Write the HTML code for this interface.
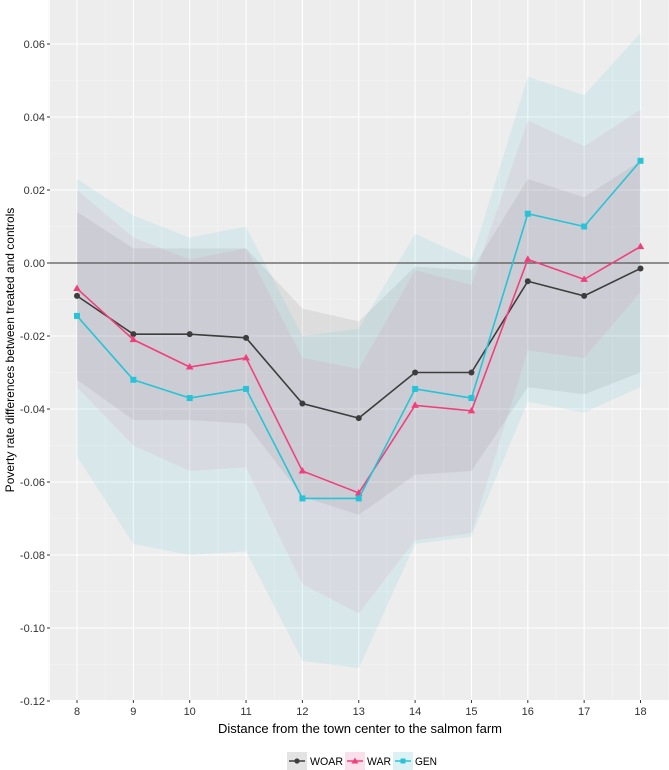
<!DOCTYPE html>
<html><head><meta charset="utf-8"><style>
html,body{margin:0;padding:0;background:#fff;}
svg{display:block;font-family:"Liberation Sans",sans-serif;}
</style></head><body>
<svg id="s" width="669" height="770" xmlns="http://www.w3.org/2000/svg">
<rect x="50" y="0" width="619" height="700" fill="#ededed"/>
<g id="grid"></g>
<g id="rib"></g>
<line x1="50" x2="669" y1="263" y2="263" stroke="#555" stroke-width="1.3"/>
<g id="lines"></g>
<g id="axes" font-size="11" fill="#333"></g>
<text x="360" y="733" font-size="13" text-anchor="middle" fill="#000">Distance from the town center to the salmon farm</text>
<text transform="translate(14,350) rotate(-90)" font-size="12" text-anchor="middle" fill="#000">Poverty rate differences between treated and controls</text>
<g font-size="11" fill="#000">
<rect x="287" y="752" width="20" height="18" fill="#e3e3e3"/>
<line x1="289" x2="305" y1="761" y2="761" stroke="#3d3d3d" stroke-width="1.5"/><circle cx="297" cy="761" r="2.6" fill="#3d3d3d"/>
<text x="310" y="765" textLength="33" lengthAdjust="spacingAndGlyphs">WOAR</text>
<rect x="345" y="752" width="20" height="18" fill="#fae0ea"/>
<line x1="347" x2="363" y1="761" y2="761" stroke="#f0407c" stroke-width="1.5"/><polygon points="355,757.5 358.5,763.5 351.5,763.5" fill="#f0407c"/>
<text x="367" y="765" textLength="24" lengthAdjust="spacingAndGlyphs">WAR</text>
<rect x="393" y="752" width="20" height="18" fill="#dcf1f3"/>
<line x1="395" x2="411" y1="761" y2="761" stroke="#28c3d6" stroke-width="1.5"/><rect x="400.5" y="758.5" width="5" height="5" fill="#28c3d6"/>
<text x="415" y="765" textLength="22" lengthAdjust="spacingAndGlyphs">GEN</text>
</g>
</svg>
<script>
const X=v=>77+(v-8)*56.35, Y=v=>263-v*3650;
const ns="http://www.w3.org/2000/svg";
function el(p,t,a,txt){const e=document.createElementNS(ns,t);for(const k in a)e.setAttribute(k,a[k]);if(txt!==undefined)e.textContent=txt;document.getElementById(p).appendChild(e);return e;}
for(let i=0;i<=11;i++){let x=X(7.5+i);el("grid","line",{x1:x,x2:x,y1:0,y2:700,stroke:"#f6f6f6","stroke-width":0.6});}
for(let v=-0.13;v<=0.07;v+=0.02){let y=Y(v);if(y>0&&y<700)el("grid","line",{x1:50,x2:669,y1:y,y2:y,stroke:"#f6f6f6","stroke-width":0.6});}
for(let i=8;i<=18;i++){let x=X(i);el("grid","line",{x1:x,x2:x,y1:0,y2:700,stroke:"#fff","stroke-width":1.1});
 el("axes","line",{x1:x,x2:x,y1:700,y2:703,stroke:"#333"});el("axes","text",{x:x,y:715,"text-anchor":"middle"},String(i));}
for(let k=-6;k<=3;k++){let v=k*0.02,y=Y(v);el("grid","line",{x1:50,x2:669,y1:y,y2:y,stroke:"#fff","stroke-width":1.1});
 el("axes","line",{x1:47,x2:50,y1:y,y2:y,stroke:"#333"});el("axes","text",{x:45,y:y+4,"text-anchor":"end"},v.toFixed(2));}
const xs=[8,9,10,11,12,13,14,15,16,17,18];
const S=[
 {c:"#3d3d3d",f:"#555",o:0.1,m:[-0.009,-0.0195,-0.0195,-0.0205,-0.0385,-0.0425,-0.030,-0.030,-0.005,-0.009,-0.0015],
  u:[0.014,0.004,0.004,0.004,-0.0125,-0.016,-0.001,-0.002,0.023,0.018,0.028],l:[-0.032,-0.043,-0.043,-0.044,-0.064,-0.069,-0.058,-0.057,-0.034,-0.036,-0.030],s:"c"},
 {c:"#f0407c",f:"#f0407c",o:0.09,m:[-0.007,-0.021,-0.0285,-0.026,-0.057,-0.063,-0.039,-0.0405,0.001,-0.0045,0.0045],
  u:[0.020,0.007,0.001,0.004,-0.026,-0.029,-0.002,-0.006,0.039,0.032,0.042],l:[-0.034,-0.050,-0.057,-0.056,-0.088,-0.096,-0.076,-0.074,-0.024,-0.026,-0.008],s:"t"},
 {c:"#28c3d6",f:"#28c3d6",o:0.1,m:[-0.0145,-0.032,-0.037,-0.0345,-0.0645,-0.0645,-0.0345,-0.037,0.0135,0.010,0.028],
  u:[0.023,0.013,0.007,0.010,-0.020,-0.018,0.008,0.001,0.051,0.046,0.063],l:[-0.053,-0.077,-0.080,-0.079,-0.109,-0.111,-0.077,-0.075,-0.038,-0.041,-0.034],s:"s"}];
S.forEach(s=>{let p=xs.map((x,i)=>X(x)+","+Y(s.u[i])).concat(xs.map((x,i)=>X(x)+","+Y(s.l[i])).reverse());
 el("rib","polygon",{points:p.join(" "),fill:s.f,"fill-opacity":s.o});});
S.forEach(s=>{el("lines","polyline",{points:xs.map((x,i)=>X(x)+","+Y(s.m[i])).join(" "),fill:"none",stroke:s.c,"stroke-width":1.6});
 xs.forEach((x,i)=>{let cx=X(x),cy=Y(s.m[i]);
  if(s.s=="c")el("lines","circle",{cx:cx,cy:cy,r:3,fill:s.c});
  else if(s.s=="t")el("lines","polygon",{points:`${cx},${cy-4} ${cx+3.8},${cy+2.5} ${cx-3.8},${cy+2.5}`,fill:s.c});
  else el("lines","rect",{x:cx-3,y:cy-3,width:6,height:6,fill:s.c});});});
</script>
</body></html>
